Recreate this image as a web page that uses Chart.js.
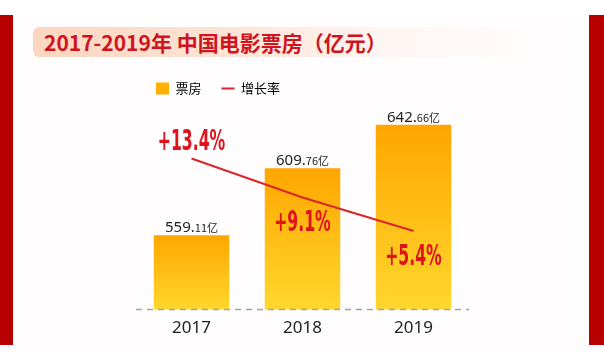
<!DOCTYPE html>
<html>
<head>
<meta charset="utf-8">
<script src="https://cdn.jsdelivr.net/npm/chart.js@4/dist/chart.umd.min.js"></script>
<style>
  html, body { margin: 0; padding: 0; background: #fff; }
  #page { position: relative; width: 604px; height: 354px; overflow: hidden; background: #fff; }
  .red { position: absolute; top: 15px; height: 330px; background: #b70000; }
  #panel { position: absolute; left: 13px; top: 15px; width: 576px; height: 339px; background: #fffdfd; }
  #titleBox {
    position: absolute; left: 33px; top: 27px; width: 530px; height: 30px; border-radius: 6px;
    background: linear-gradient(to right, #fcd6c0 0%, #fde3d4 35%, rgba(255,240,235,0.6) 65%, rgba(255,255,255,0) 95%);
  }
  #title {
    position: absolute; left: 44px; top: 27px; height: 30px; line-height: 30px;
    font-family: "Noto Sans CJK SC", "Noto Sans", sans-serif; font-weight: bold; font-size: 21px; color: #cf1420;
    white-space: nowrap;
  }
  canvas { position: absolute; left: 0; top: 0; }
</style>
</head>
<body>
<div id="page">
  <div class="red" style="left:0;width:13px"></div>
  <div class="red" style="left:589px;width:15px"></div>
  <div id="panel"></div>
  <div id="titleBox"></div>
  <div id="title">2017-2019年 中国电影票房（亿元）</div>
  <canvas id="boxChart" width="604" height="354"></canvas>
</div>
<script>
// 数据
const years = ['2017', '2018', '2019'];
const boxOffice = [559.11, 609.76, 642.66];   // 亿元
const growthRate = [13.4, 9.1, 5.4];          // %
const seriesNames = ['票房', '增长率'];

const BAR_TOP = '#FFA600';
const BAR_BOTTOM = '#FFD72E';
const LINE_RED = '#d8262b';

function barGradient(ctx) {
    const chart = ctx.chart;
    const area = chart.chartArea;
    if (!area || ctx.type !== 'data') return BAR_TOP;
    const top = chart.scales.y.getPixelForValue(ctx.raw);
    const g = chart.ctx.createLinearGradient(0, top, 0, area.bottom);
    g.addColorStop(0, BAR_TOP);
    g.addColorStop(1, BAR_BOTTOM);
    return g;
}

// 虚线底线 + 柱顶数值 + 折线百分比
const valueLabels = {
    id: 'valueLabels',
    afterDatasetsDraw(chart) {
        const ctx = chart.ctx;
        const area = chart.chartArea;
        ctx.save();
        ctx.strokeStyle = '#a3a3a3';
        ctx.lineWidth = 1.5;
        ctx.setLineDash([6, 5]);
        ctx.beginPath();
        ctx.moveTo(area.left, area.bottom);
        ctx.lineTo(area.right, area.bottom);
        ctx.stroke();
        ctx.setLineDash([]);

        const barMeta = chart.getDatasetMeta(0);
        ctx.fillStyle = '#222';
        ctx.textBaseline = 'alphabetic';
        barMeta.data.forEach((bar, i) => {
            let s = boxOffice[i].toFixed(2).split('.');
            let big = s[0] + '.', small = s[1] + '亿';
            ctx.font = "15px 'Noto Sans', sans-serif";
            let w1 = ctx.measureText(big).width;
            ctx.font = "11px 'Noto Sans CJK SC', sans-serif";
            let w2 = ctx.measureText(small).width;
            let x0 = bar.x - (w1 + w2) / 2;
            let y0 = bar.y - 3;
            ctx.textAlign = 'left';
            ctx.font = "15px 'Noto Sans', sans-serif";
            ctx.fillText(big, x0, y0);
            ctx.font = "11px 'Noto Sans CJK SC', sans-serif";
            ctx.fillText(small, x0 + w1, y0);
        });

        const lineMeta = chart.getDatasetMeta(1);
        ctx.fillStyle = '#e0121b';
        ctx.textAlign = 'center';
        ctx.textBaseline = 'middle';
        ctx.font = "bold 29px 'Liberation Sans Narrow', 'DejaVu Sans Condensed', sans-serif";
        lineMeta.data.forEach((pt, i) => {
            let txt = '+' + growthRate[i].toFixed(1) + '%';
            let dy = i === 0 ? -16 : 26;   // 第一个在线上方，其余在下方
            ctx.save();
            ctx.translate(pt.x, pt.y + dy);
            ctx.scale(0.6, 1);
            ctx.fillText(txt, 0, 0);
            ctx.restore();
        });
        ctx.restore();
    }
};

Chart.defaults.font.family = "'Noto Sans', 'Noto Sans CJK SC', sans-serif";

new Chart(document.getElementById('boxChart'), {
    type: 'bar',
    data: {
        labels: years,
        datasets: [
            {
                type: 'bar', label: seriesNames[0], data: boxOffice, yAxisID: 'y',
                backgroundColor: barGradient, borderWidth: 0,
                barPercentage: 0.68, categoryPercentage: 1, order: 2
            },
            {
                type: 'line', label: seriesNames[1], data: growthRate, yAxisID: 'y1',
                borderColor: LINE_RED, borderWidth: 2, pointRadius: 0, tension: 0, fill: false, order: 1
            }
        ]
    },
    plugins: [valueLabels],
    options: {
        responsive: false, animation: false,
        layout: { padding: { left: 136, right: 135, top: 62, bottom: 16 } },
        plugins: {
            tooltip: { enabled: false },
            legend: {
                position: 'top', align: 'start',
                labels: {
                    usePointStyle: true, pointStyleWidth: 13, boxHeight: 12, padding: 20,
                    color: '#333', font: { size: 13, family: "'Noto Sans CJK SC', sans-serif" },
                    generateLabels: () => [
                        { text: seriesNames[0], pointStyle: 'rect', fillStyle: '#FFB000', strokeStyle: '#FFB000', lineWidth: 0, datasetIndex: 0 },
                        { text: seriesNames[1], pointStyle: 'line', fillStyle: LINE_RED, strokeStyle: LINE_RED, lineWidth: 2, datasetIndex: 1 }
                    ]
                }
            }
        },
        scales: {
            x: {
                grid: { display: false },
                border: { display: false },
                ticks: { color: '#222', font: { size: 17 }, padding: 0 }
            },
            y: { display: false, min: 502.8, max: 657.6 },
            y1: { display: false, min: -3.26, max: 19.3 }
        }
    }
});
</script>
</body>
</html>
